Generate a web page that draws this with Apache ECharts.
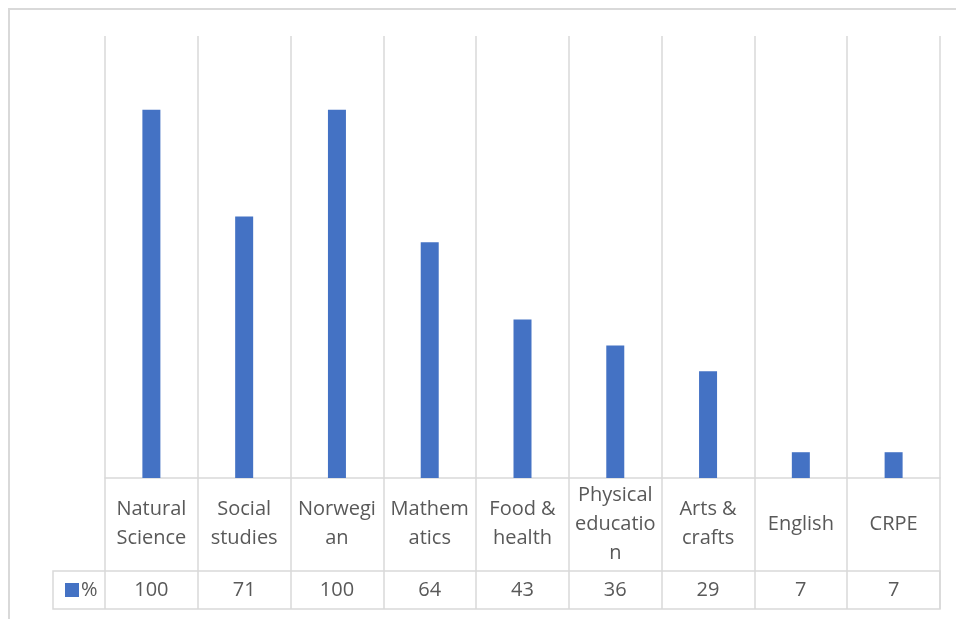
<!DOCTYPE html>
<html>
<head>
<meta charset="utf-8">
<script src="https://cdn.jsdelivr.net/npm/echarts@6/dist/echarts.min.js"></script>
<style>
html,body{margin:0;padding:0;background:#fff;}
#c{width:956px;height:619px;}
</style>
</head>
<body>
<div id="c"></div>
<script>
const categories = ['Natural Science', 'Social studies', 'Norwegian', 'Mathematics', 'Food & health', 'Physical education', 'Arts & crafts', 'English', 'CRPE'];
const categoryLabels = ['Natural\nScience', 'Social\nstudies', 'Norwegi\nan', 'Mathem\natics', 'Food &\nhealth', 'Physical\neducatio\nn', 'Arts &\ncrafts', 'English', 'CRPE'];
const seriesName = '%';
const values = [100, 71, 100, 64, 43, 36, 29, 7, 7];

const gridColor = '#d9d9d9';
const textColor = '#595959';
const font = 'Open Sans';

const chart = echarts.init(document.getElementById('c'), null, {renderer: 'canvas'});
chart.setOption({
  animation: false,
  backgroundColor: '#fff',
  grid: {left: 105, right: 16, top: 36, bottom: 141, containLabel: false},
  legend: {
    data: [seriesName],
    left: 60, top: 575,
    icon: 'rect', itemWidth: 14, itemHeight: 14, itemGap: 4,
    textStyle: {fontFamily: font, fontSize: 20, lineHeight: 20, color: textColor, padding: [0, 0, 0, -3]},
    selectedMode: false
  },
  xAxis: [
    {
      type: 'category',
      data: categories,
      position: 'bottom',
      axisLine: {show: true, lineStyle: {color: gridColor, width: 1.5}},
      axisTick: {show: true, interval: 0, length: 131, lineStyle: {color: gridColor, width: 1.5}},
      splitLine: {show: true, interval: 0, lineStyle: {color: gridColor, width: 1.5}},
      axisLabel: {
        interval: 0, margin: 46, verticalAlign: 'middle',
        fontFamily: font, fontSize: 20, color: textColor, lineHeight: 29, align: 'center',
        formatter: (v, i) => categoryLabels[i]
      }
    },
    {
      type: 'category',
      data: values.map(String),
      position: 'bottom',
      offset: 93,
      axisLine: {show: false},
      axisTick: {show: false},
      splitLine: {show: false},
      axisLabel: {interval: 0, margin: 19, verticalAlign: 'middle', fontFamily: font, fontSize: 20, color: textColor}
    }
  ],
  yAxis: {
    type: 'value', min: 0, max: 120, interval: 20,
    show: false,
    splitLine: {show: false}
  },
  series: [{
    name: seriesName,
    type: 'bar',
    data: values,
    barWidth: 18,
    itemStyle: {color: '#4472C4'},
    xAxisIndex: 0
  }],
  graphic: [
    {type: 'rect', shape: {x: 9, y: 9, width: 980, height: 640}, style: {fill: 'none', stroke: gridColor, lineWidth: 2}, silent: true},
    {type: 'rect', shape: {x: 53, y: 571, width: 887, height: 38}, style: {fill: 'none', stroke: gridColor, lineWidth: 1.5}, silent: true}
  ]
});
</script>
</body>
</html>
